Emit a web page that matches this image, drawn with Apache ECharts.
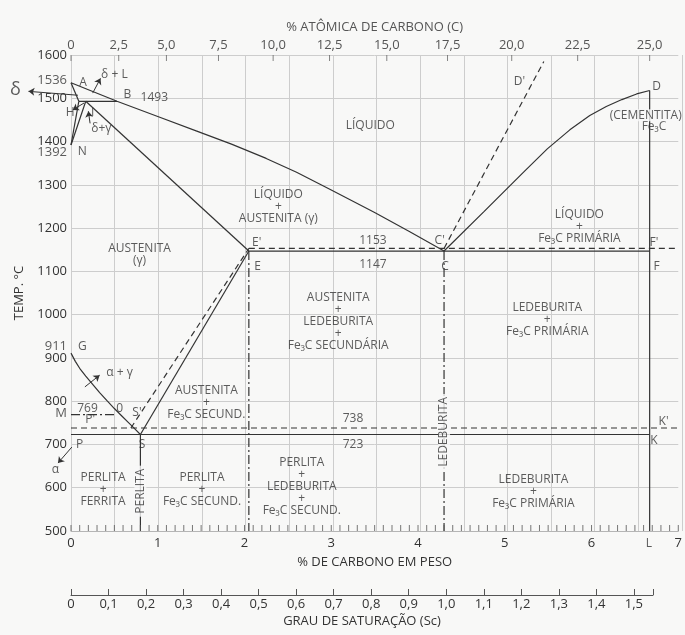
<!DOCTYPE html>
<html>
<head>
<meta charset="utf-8">
<script src="https://cdn.jsdelivr.net/npm/echarts@6/dist/echarts.min.js"></script>
<style>
  html, body { margin: 0; background: #f8f8f7; }
  #chart { width: 685px; height: 635px; }
</style>
</head>
<body>
<div id="chart"></div>
<script>
// diagrama Fe-C: x = % C em peso, y = temperatura (°C)
const atomicLabels = ['0', '2,5', '5,0', '7,5', '10,0', '12,5', '15,0', '17,5', '20,0', '22,5', '25,0']
const atomicTickWt = [0, 0.55, 1.1, 1.7, 2.33, 2.98, 3.64, 4.34, 5.08, 5.84, 6.67]
const scMax = 1.551 // grau de saturação no ponto L

// linhas cheias (metaestável)
const liquidusABC = [[0, 1536], [0.53, 1493], [1.0, 1458], [1.45, 1424], [1.85, 1394], [2.25, 1361], [2.6, 1329], [3.0, 1288], [3.5, 1236], [3.9, 1192], [4.3, 1147]]
const solidusAH = [[0, 1536], [0.09, 1493]]
const peritecticHB = [[0.09, 1493], [0.53, 1493]]
const lineHN = [[0.09, 1493], [0, 1392]]
const lineJN = [[0.17, 1493], [0, 1392]]
const solidusJE = [[0.17, 1493], [2.05, 1147]]
const eutecticEF = [[2.05, 1147], [6.67, 1147]]
const liquidusCD = [[4.3, 1147], [4.76, 1238], [5.22, 1330], [5.49, 1383], [5.75, 1427], [5.98, 1460], [6.17, 1481], [6.35, 1497], [6.52, 1510], [6.67, 1518]]
const cementiteDL = [[6.67, 1518], [6.67, 500]]
const lineGS = [[0, 911], [0.05, 892], [0.1, 876], [0.17, 858], [0.25, 839], [0.33, 820], [0.42, 800], [0.5, 783], [0.58, 767], [0.66, 751], [0.73, 737], [0.8, 723]]
const lineSE = [[0.8, 723], [2.05, 1147]]
const eutectoidPK = [[0, 723], [6.67, 723]]
const perliteS = [[0.8, 723], [0.8, 500]]
// tracejadas (estável)
const dashedEF = [[2.05, 1153], [7, 1153]]
const dashedPK = [[0, 738], [7, 738]]
const dashedSE = [[0.69, 738], [2.05, 1153]]
const dashedCD = [[4.3, 1153], [5.45, 1585]]
// traço-ponto
const curieMO = [[0, 769], [0.5, 769]]
const verticalE = [[2.05, 1147], [2.05, 500]]
const verticalC = [[4.3, 1147], [4.3, 500]]

const arrows = [
  [[0.08, 1507], [-0.49, 1516]],
  [[0.15, 1489], [0.02, 1473]],
  [[0.25, 1512], [0.34, 1546]],
  [[0.22, 1442], [0.2, 1470]],
  [[0.16, 833], [0.33, 860]],
  [[0.01, 694], [-0.15, 657]]
]

const regionLabels = [
  [3.45, 1438, 'LÍQUIDO'],
  [2.39, 1249, 'LÍQUIDO\n+\nAUSTENITA (γ)'],
  [0.79, 1138, 'AUSTENITA\n(γ)'],
  [5.86, 1203, 'LÍQUIDO\n+\nFe₃C PRIMÁRIA'],
  [3.08, 983, 'AUSTENITA\n+\nLEDEBURITA\n+\nFe₃C SECUNDÁRIA'],
  [5.49, 988, 'LEDEBURITA\n+\nFe₃C PRIMÁRIA'],
  [5.33, 592, 'LEDEBURITA\n+\nFe₃C PRIMÁRIA'],
  [2.66, 602, 'PERLITA\n+\nLEDEBURITA\n+\nFe₃C SECUND.'],
  [1.56, 796, 'AUSTENITA\n+\nFe₃C SECUND.'],
  [0.37, 595, 'PERLITA\n+\nFERRITA'],
  [1.51, 595, 'PERLITA\n+\nFe₃C SECUND.']
]
const pointLabels = [
  [0.14, 1537, 'A'], [0.65, 1508, 'B'], [0.96, 1501, '1493'], [-0.01, 1468, 'H'], [0.25, 1466, 'I'],
  [0.13, 1376, 'N'], [0.5, 1554, 'δ + L'], [0.35, 1431, 'δ+γ'],
  [2.14, 1166, "E'"], [2.15, 1112, 'E'], [3.48, 1170, '1153'], [3.48, 1115, '1147'],
  [4.25, 1170, "C'"], [4.31, 1112, 'C'], [6.72, 1166, "F'"], [6.75, 1110, 'F'],
  [6.75, 1526, 'D'], [5.17, 1538, "D'"], [6.72, 1434, 'Fe₃C'],
  [0.13, 927, 'G'], [0.56, 867, 'α + γ'], [0.19, 784, '769'], [0.56, 782, '0'], [0.76, 773, "S'"],
  [0.22, 757, "P'"], [0.1, 699, 'P'], [0.82, 699, 'S'], [3.25, 759, '738'], [3.25, 699, '723'],
  [6.83, 752, "K'"], [6.72, 710, 'K'], [-0.18, 641, 'α'], [6.66, 470, 'L']
]
const leftLabels = [[1542, '1536'], [1376, '1392'], [927, '911'], [773, 'M']]
const rotatedLabels = [[0.8, 592, 'PERLITA'], [4.3, 729, 'LEDEBURITA']]

const BG = '#f8f8f7'
const INK = '#333'
const TXT = '#333'
const GRID = '#cdcdcd'
const FONT = '"Open Sans", "Noto Sans", sans-serif'

const chart = echarts.init(document.getElementById('chart'))

const path = (data, type) => ({
  type: 'line', data, symbol: 'none',
  lineStyle: { color: INK, width: 1.2, type: type || 'solid' },
  silent: true, clip: false, animation: false, z: 3
})
const DASH = [6, 4]
const DASHDOT = [9, 3, 2, 3]

const textSeries = (items, label) => ({
  type: 'scatter', symbolSize: 0, itemStyle: { color: 'transparent' }, clip: false, silent: true,
  animation: false, z: 6,
  data: items.map(d => ({ value: [d[0], d[1]], name: d[2] })),
  label: Object.assign({ show: true, position: 'inside', formatter: p => p.name,
    color: TXT, fontFamily: FONT, fontSize: 12, lineHeight: 12 }, label)
})

// traços curtos na base (cada 0,1 %) e no topo (escala atômica)
const wtMinorTicks = Array.from({ length: 71 }, (_, i) => [i / 10, 500])
const tickMarks = (data, offsetY, color) => ({
  type: 'scatter', data, symbol: 'rect', symbolSize: [1, 6], symbolOffset: [0, offsetY],
  itemStyle: { color }, silent: true, clip: false, animation: false, z: 4
})

const fmtSc = v => v > 1.5001 ? '' : (v === 0 ? '0' : v.toFixed(1).replace('.', ','))

chart.setOption({
  backgroundColor: BG,
  animation: false,
  textStyle: { fontFamily: FONT },
  grid: [
    { left: 71, right: 3, top: 55, bottom: 104 },
    { left: 71, right: 32, top: 594, height: 1 },
    { left: 71, right: 3, top: 55, bottom: 104 } // malha de 0,5 %
  ],
  xAxis: [
    {
      type: 'value', min: 0, max: 7, interval: 1,
      name: '% DE CARBONO EM PESO', nameLocation: 'middle', nameGap: 25,
      nameTextStyle: { color: TXT, fontSize: 13, fontFamily: FONT },
      axisLine: { show: true, lineStyle: { color: '#b5b5b5' } },
      axisTick: { show: false },
      axisLabel: { color: TXT, fontSize: 13, margin: 6 },
      splitLine: { show: false }
    },
    {
      type: 'value', position: 'top', min: 0, max: 7,
      name: '% ATÔMICA DE CARBONO (C)', nameLocation: 'middle', nameGap: 20,
      nameTextStyle: { color: '#555', fontSize: 13, fontFamily: FONT },
      axisLine: { show: false },
      axisTick: { show: false },
      axisLabel: {
        color: '#555', fontSize: 13, margin: 3, customValues: atomicTickWt,
        formatter: v => atomicLabels[atomicTickWt.indexOf(v)] || ''
      },
      splitLine: { show: false }
    },
    {
      gridIndex: 1, type: 'value', min: 0, max: scMax, interval: 0.1,
      name: 'GRAU DE SATURAÇÃO (Sc)', nameLocation: 'middle', nameGap: 20,
      nameTextStyle: { color: TXT, fontSize: 13, fontFamily: FONT },
      axisLine: { show: true, lineStyle: { color: '#555' } },
      axisTick: { show: true, inside: true, length: 6, lineStyle: { color: '#555' } },
      axisLabel: { color: TXT, fontSize: 13, margin: 3, formatter: fmtSc },
      splitLine: { show: false }
    },
    {
      gridIndex: 2, type: 'value', min: 0, max: 7, interval: 0.5,
      axisLine: { show: false }, axisTick: { show: false }, axisLabel: { show: false },
      splitLine: { show: true, lineStyle: { color: GRID } }
    }
  ],
  yAxis: [
    {
      type: 'value', min: 500, max: 1600, interval: 100,
      name: 'TEMP. °C', nameLocation: 'middle', nameRotate: 90, nameGap: 45,
      nameTextStyle: { color: TXT, fontSize: 13, fontFamily: FONT },
      axisLine: { show: false }, axisTick: { show: false },
      axisLabel: { color: TXT, fontSize: 13, margin: 4, formatter: v => String(v) },
      splitLine: { show: true, lineStyle: { color: GRID } }
    },
    { gridIndex: 1, type: 'value', show: false },
    { gridIndex: 2, type: 'value', min: 500, max: 1600, show: false }
  ],
  series: [
    path(liquidusABC), path(solidusAH), path(peritecticHB), path(lineHN), path(lineJN),
    path(solidusJE), path(eutecticEF), path(liquidusCD), path(cementiteDL),
    path(lineGS), path(lineSE), path(eutectoidPK), path(perliteS),
    path(dashedEF, DASH), path(dashedPK, DASH), path(dashedSE, DASH), path(dashedCD, DASH),
    path(curieMO, DASHDOT), path(verticalE, DASHDOT), path(verticalC, DASHDOT),
    tickMarks(wtMinorTicks, -3, '#555'),
    tickMarks(atomicTickWt.map(v => [v, 1600]), 3, '#666'),
    {
      type: 'lines', coordinateSystem: 'cartesian2d', polyline: false, clip: false, silent: true,
      symbol: ['none', 'arrow'], symbolSize: 6, z: 4,
      lineStyle: { color: INK, width: 1, opacity: 1, curveness: 0 },
      data: arrows.map(a => ({ coords: a }))
    },
    textSeries(regionLabels, {}),
    textSeries(pointLabels, { fontSize: 12 }),
    textSeries(rotatedLabels, { rotate: 90, backgroundColor: BG, padding: [0, 3] }),
    textSeries([[6.21, 1461, '(CEMENTITA)']], { position: 'right', distance: 0, backgroundColor: BG }),
    textSeries([[-0.64, 1519, 'δ']], { fontSize: 18 }),
    textSeries(leftLabels.map(d => [0, d[0], d[1]]), { position: 'left', distance: 4, fontSize: 13 })
  ]
})
</script>
</body>
</html>
